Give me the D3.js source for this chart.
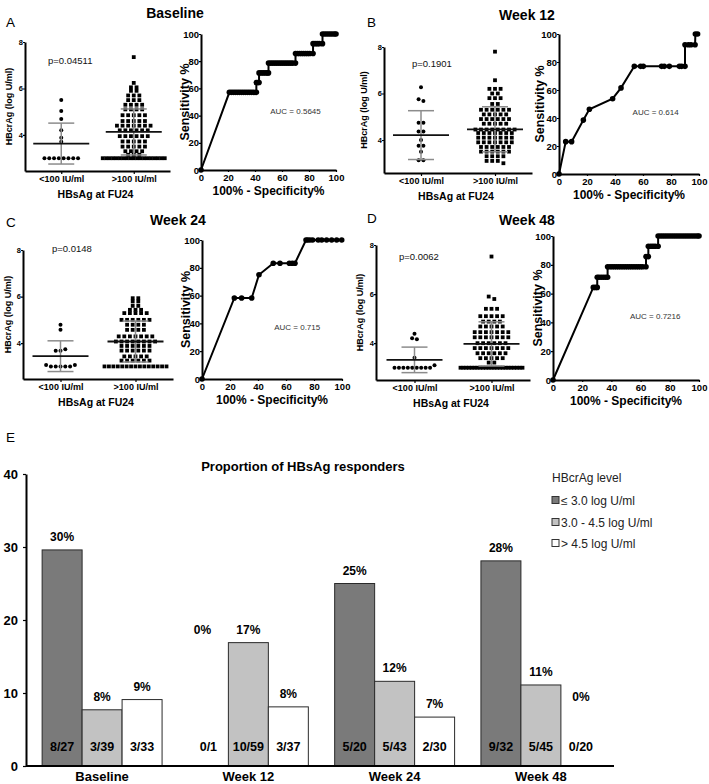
<!DOCTYPE html>
<html><head><meta charset="utf-8">
<script src="https://cdn.jsdelivr.net/npm/d3@7"></script>
<style>
body{margin:0;background:#fff;}
svg{display:block;font-family:"Liberation Sans",Arial,Helvetica,sans-serif;}
</style></head><body>
<script>
// ---------------- DATA ----------------
const scatterCategories = ["<100 IU/ml", ">100 IU/ml"];
const scatterTicks = [4, 6, 8];

// HBcrAg (log U/ml) values
const baselineLow = [5.5, 5.03, 4.69, 4.2, 3.88, 3.71, 3, 3, 3, 3, 3, 3, 3, 3];
const baselineHigh = [7.35, 6.24, 6.05, 6.05, 5.9, 5.9, 5.7, 5.7, 5.7, 5.5, 5.5, 5.5,
  5.3, 5.3, 5.3, 5.3, 5.1, 5.1, 5.1, 5.1, 4.85, 4.85, 4.85, 4.85, 4.85, 4.6, 4.6, 4.6, 4.6, 4.6,
  4.4, 4.4, 4.4, 4.4, 4.4, 4.4, 4.4, 4.2, 4.2, 4.2, 4.2, 4.2, 4.2, 3.95, 3.95, 3.95, 3.95, 3.95, 3.95,
  3.72, 3.72, 3.72, 3.72, 3.72, 3.5, 3.5, 3.5, 3.5, 3.5, 3.3, 3.3, 3.3, 3.3, 3.15, 3.15, 3.15,
  3, 3, 3, 3, 3, 3, 3, 3, 3, 3, 3, 3, 3, 3, 3, 3, 3, 3, 3];
const week12Low = [6.27, 5.75, 5.68, 4.74, 4.74, 4.36, 4.36, 4.0, 3.75, 3.75, 3.49, 3.13, 3.13];
const week12High = [7.8, 6.57, 6.2, 6.2, 6.2, 6.0, 6.0, 5.8, 5.8, 5.8, 5.55, 5.55,
  5.3, 5.3, 5.3, 5.3, 5.3, 5.3, 5.1, 5.1, 5.1, 5.1, 5.1, 4.9, 4.9, 4.9, 4.9, 4.9, 4.9, 4.7, 4.7, 4.7, 4.7, 4.7,
  4.45, 4.45, 4.45, 4.45, 4.45, 4.45, 4.45, 4.45, 4.3, 4.3, 4.3, 4.3, 4.3, 4.3, 4.3,
  4.1, 4.1, 4.1, 4.1, 4.1, 4.1, 4.1, 3.9, 3.9, 3.9, 3.9, 3.9, 3.9, 3.9, 3.7, 3.7, 3.7, 3.7, 3.7, 3.7,
  3.5, 3.5, 3.5, 3.5, 3.5, 3.5, 3.3, 3.3, 3.3, 3.3, 3.1, 3.1, 3.1, 3.0];
const week24Low = [4.79, 4.57, 3.67, 3.67, 3.74, 3.06, 3, 3, 3, 3, 3, 3.06];
const week24High = [5.93, 5.93, 5.79, 5.79, 5.6, 5.6, 5.43, 5.43, 5.43, 5.29, 5.29, 5.29, 5.29, 5.29,
  5.0, 5.0, 5.0, 5.0, 5.0, 5.0, 4.79, 4.79, 4.79, 4.79, 4.57, 4.57, 4.57, 4.57,
  4.29, 4.29, 4.29, 4.29, 4.29, 4.29, 4.29, 4.07, 4.07, 4.07, 4.07, 4.07, 4.07, 4.07, 4.07,
  3.88, 3.88, 3.88, 3.88, 3.88, 3.88, 3.68, 3.68, 3.68, 3.68, 3.68, 3.68, 3.43, 3.43, 3.43, 3.43, 3.43,
  3.25, 3.25, 3.25, 3.25, 3.25, 3.25, 3, 3, 3, 3, 3, 3, 3, 3, 3, 3, 3, 3, 3, 3, 3];
const week48Low = [4.38, 4.2, 4.16, 3.41, 3, 3, 3, 3, 3, 3, 3, 3, 3, 3.1];
const week48High = [7.53, 5.9, 5.8, 5.4, 5.4, 5.4, 5.1, 5.1, 5.1, 5.1, 5.1, 4.88, 4.88, 4.88, 4.88,
  4.68, 4.68, 4.68, 4.68, 4.68, 4.45, 4.45, 4.45, 4.45, 4.45, 4.45, 4.45, 4.24, 4.24, 4.24, 4.24, 4.24, 4.24, 4.24,
  4.0, 4.0, 4.0, 4.0, 4.0, 4.0, 3.8, 3.8, 3.8, 3.8, 3.8, 3.8, 3.8, 3.59, 3.59, 3.59, 3.59, 3.59, 3.59,
  3.39, 3.39, 3.39, 3.39, 3.39, 3.21, 3.21,
  3, 3, 3, 3, 3, 3, 3, 3, 3, 3, 3, 3, 3, 3, 3, 3, 3, 3, 3, 3, 3, 3, 3];

// mean and SD bars [mean, sd] for <100 and >100 groups
const baselineStats = [[3.63, 0.88], [4.13, 0.99]];
const week12Stats = [[4.21, 1.05], [4.46, 0.97]];
const week24Stats = [[3.44, 0.66], [4.07, 0.88]];
const week48Stats = [[3.32, 0.52], [3.97, 0.9]];
const pValues = ["p=0.04511", "p=0.1901", "p=0.0148", "p=0.0062"];
const aucValues = ["AUC = 0.5645", "AUC = 0.614", "AUC = 0.715", "AUC = 0.7216"];
const panelTitles = ["Baseline", "Week 12", "Week 24", "Week 48"];
const rocTicks = [0, 20, 40, 60, 80, 100];

// ROC curves: [100% - specificity %, sensitivity %]
const rocBaseline = [[0,0],
  [21,57.1],[22.5,57.1],[24,57.1],[25.5,57.1],[27,57.1],[28.5,57.1],[30,57.1],[31.5,57.1],[33,57.1],[34.5,57.1],[36,57.1],[37.5,57.1],[39,57.1],[41,57.1],
  [41,64.3],[42,64.3],[43,64.3],
  [43,71.4],[44.5,71.4],[46,71.4],[47.5,71.4],[49,71.4],[50,71.4],
  [50,78.6],[51.5,78.6],[53,78.6],[54.5,78.6],[56,78.6],[57.5,78.6],[59,78.6],[60.5,78.6],[62,78.6],[63.5,78.6],[65,78.6],[66.5,78.6],[68,78.6],[70,78.6],
  [70,85.7],[71.5,85.7],[73,85.7],[74.5,85.7],[76,85.7],[77.5,85.7],[79,85.7],[80.5,85.7],[83,85.7],
  [83,92.9],[84.5,92.9],[86,92.9],[87.5,92.9],[90,92.9],
  [90,100],[91.5,100],[93,100],[94.5,100],[96,100],[97.5,100],[99,100],[100,100]];
const rocWeek12 = [[0,0],[4.8,23.1],[9,23.1],[17.4,38.5],[21.7,46.2],[38.3,53.8],[44.3,61.5],
  [53.8,76.9],[58.3,76.9],[60.2,76.9],[73.3,76.9],[75.2,76.9],[78.8,76.9],[86,76.9],[87.6,76.9],[90,76.9],
  [90,92.3],[92.4,92.3],[94.3,92.3],[97.2,92.3],[97.4,100],[99,100]];
const rocWeek24 = [[0,0],[23.1,58.3],[28.3,58.3],[35.5,58.3],[40.7,75],[50.9,83.3],[55.7,83.3],
  [62.4,83.3],[64.5,83.3],[66.4,83.3],[74.3,100],[75.5,100],[77.1,100],[79,100],[83,100],[85.5,100],
  [89,100],[92.6,100],[96.2,100],[99.8,100]];
const rocWeek48 = [[0,0],[27.6,64.3],[29,64.3],[30.3,64.3],
  [30.3,71.4],[31.5,71.4],[33,71.4],[34.5,71.4],[36,71.4],[37.4,71.4],
  [37.4,78.6],[39,78.6],[40.5,78.6],[42,78.6],[43.5,78.6],[45,78.6],[46.5,78.6],[48,78.6],[49.5,78.6],[51,78.6],
  [52.5,78.6],[54,78.6],[55.5,78.6],[57,78.6],[58.5,78.6],[60,78.6],[61.5,78.6],[63.7,78.6],
  [63.7,85.7],[65.3,85.7],[65.3,92.9],[67,92.9],[68.5,92.9],[70,92.9],[72,92.9],
  [72,100],[73.5,100],[75,100],[76.5,100],[78,100],[79.5,100],[81,100],[82.5,100],[84,100],[85.5,100],
  [87,100],[88.5,100],[90,100],[91.5,100],[93,100],[94.5,100],[96,100],[97.5,100],[99,100],[100,100]];

// Panel E
const timepoints = ["Baseline", "Week 12", "Week 24", "Week 48"];
const hbcrLevels = ["\u2264 3.0 log U/ml", "3.0 - 4.5 log U/ml", "> 4.5 log U/ml"];
const respLow = [29.6, 0, 25, 28.1];
const respMid = [7.7, 16.9, 11.6, 11.1];
const respHigh = [9.1, 8.1, 6.7, 0];
const fracLow = ["8/27", "0/1", "5/20", "9/32"];
const fracMid = ["3/39", "10/59", "5/43", "5/45"];
const fracHigh = ["3/33", "3/37", "2/30", "0/20"];
const respTicks = [0, 10, 20, 30, 40];

// ---------------- DRAWING ----------------
const svg = d3.select("body").append("svg").attr("width", 709).attr("height", 784);

function styleAxis(g, fs, sw) {
  g.select(".domain").attr("stroke", "#000").attr("stroke-width", sw);
  g.selectAll(".tick line").attr("stroke", "#000").attr("stroke-width", 1.2);
  g.selectAll(".tick text").attr("font-size", fs).attr("font-weight", "bold").attr("fill", "#000")
    .attr("font-family", "Liberation Sans, Arial, sans-serif");
}

function swarm(vals, y, cx, spacing, maxW) {
  const rows = [];
  vals.forEach(v => {
    const py = y(v);
    let r = rows.find(r => Math.abs(r.py - py) < 2.6);
    if (!r) { r = { py, items: [] }; rows.push(r); }
    r.items.push(v);
  });
  const out = [];
  rows.forEach((r, ri) => {
    const n = r.items.length;
    const sp = n > 1 ? Math.min(spacing, maxW / (n - 1)) : 0;
    r.items.forEach((v, j) => out.push({ v, x: cx + (j - (n - 1) / 2) * sp, y: y(v) }));
  });
  return out;
}

function drawScatter(cfg, low, high, stats, pText) {
  const g = svg.append("g");
  const x = d3.scalePoint().domain(scatterCategories).range(cfg.xr).padding(0.5);
  const y = d3.scaleLinear().domain([cfg.ymin, 8]).range(cfg.yr);
  // points
  swarm(low, y, x(scatterCategories[0]), 4.8, 40).forEach(p => {
    g.append("circle").attr("cx", p.x).attr("cy", p.y).attr("r", 2.0).attr("fill", "#000");
  });
  swarm(high, y, x(scatterCategories[1]), 5.6, 62).forEach(p => {
    g.append("rect").attr("x", p.x - 1.9).attr("y", p.y - 1.9).attr("width", 3.8).attr("height", 3.8).attr("fill", "#000");
  });
  // mean & SD
  scatterCategories.forEach((c, i) => {
    const cx = x(c), m = stats[i][0], sd = stats[i][1];
    g.append("line").attr("x1", cx).attr("x2", cx).attr("y1", y(m - sd)).attr("y2", y(m + sd))
      .attr("stroke", "#8c8c8c").attr("stroke-width", 1.5);
    [m - sd, m + sd].forEach(v => g.append("line").attr("x1", cx - 13).attr("x2", cx + 13)
      .attr("y1", y(v)).attr("y2", y(v)).attr("stroke", "#8c8c8c").attr("stroke-width", 1.5));
    g.append("line").attr("x1", cx - 28).attr("x2", cx + 28).attr("y1", y(m)).attr("y2", y(m))
      .attr("stroke", "#111").attr("stroke-width", 1.8);
  });
  // axes
  const ya = g.append("g").attr("transform", `translate(${cfg.xr[0]},0)`)
    .call(d3.axisLeft(y).tickValues(scatterTicks).tickFormat(d3.format("d")).tickSize(2).tickPadding(0).tickSizeOuter(0));
  styleAxis(ya, 7.5, 2);
  const xa = g.append("g").attr("transform", `translate(0,${cfg.yr[0]})`)
    .call(d3.axisBottom(x).tickSize(3).tickPadding(2).tickSizeOuter(0));
  styleAxis(xa, 9, 2);
  g.append("text").attr("x", (cfg.xr[0] + cfg.xr[1]) / 2 - 2).attr("y", cfg.yr[0] + 27)
    .attr("text-anchor", "middle").attr("font-size", 10.5).attr("font-weight", "bold").text("HBsAg at FU24");
  g.append("text").attr("transform", `translate(${cfg.yTitleX},${(cfg.yr[0] + cfg.yr[1]) / 2}) rotate(-90)`)
    .attr("text-anchor", "middle").attr("dy", "0.35em").attr("font-size", 9).attr("font-weight", "bold")
    .text("HBcrAg (log U/ml)");
  g.append("text").attr("x", cfg.pPos[0]).attr("y", cfg.pPos[1]).attr("font-size", 9.5).attr("fill", "#111").text(pText);
}

function drawROC(cfg, data, auc) {
  const g = svg.append("g");
  const x = d3.scaleLinear().domain([0, 100]).range(cfg.xr);
  const y = d3.scaleLinear().domain([0, 100]).range(cfg.yr);
  g.append("path").datum(data).attr("fill", "none").attr("stroke", "#000").attr("stroke-width", 2)
    .attr("d", d3.line().x(d => x(d[0])).y(d => y(d[1])));
  g.selectAll("circle").data(data).join("circle").attr("cx", d => x(d[0])).attr("cy", d => y(d[1]))
    .attr("r", 2.8).attr("fill", "#000");
  const ya = g.append("g").attr("transform", `translate(${cfg.xr[0]},0)`)
    .call(d3.axisLeft(y).tickValues(rocTicks).tickSize(2).tickPadding(0).tickSizeOuter(0));
  styleAxis(ya, 9.5, 2);
  const xa = g.append("g").attr("transform", `translate(0,${cfg.yr[0]})`)
    .call(d3.axisBottom(x).tickValues(rocTicks).tickSize(2).tickPadding(2).tickSizeOuter(0));
  styleAxis(xa, 9.5, 2);
  g.append("text").attr("x", (cfg.xr[0] + cfg.xr[1]) / 2).attr("y", cfg.yr[0] + 25)
    .attr("text-anchor", "middle").attr("font-size", 12).attr("font-weight", "bold").text("100% - Specificity%");
  g.append("text").attr("transform", `translate(${cfg.yTitleX},${(cfg.yr[0] + cfg.yr[1]) / 2}) rotate(-90)`)
    .attr("text-anchor", "middle").attr("dy", "0.35em").attr("font-size", 12.5).attr("font-weight", "bold")
    .text("Sensitivity %");
  g.append("text").attr("x", x(cfg.auc[0])).attr("y", y(cfg.auc[1])).attr("dy", "0.35em")
    .attr("text-anchor", "middle").attr("font-size", 8).attr("fill", "#333").text(auc);
}

function header(letter, lx, ly, title, tx, ty) {
  svg.append("text").attr("x", lx).attr("y", ly).attr("font-size", 13.5).text(letter);
  svg.append("text").attr("x", tx).attr("y", ty).attr("text-anchor", "middle")
    .attr("font-size", 14).attr("font-weight", "bold").text(title);
}

header("A", 6, 27, panelTitles[0], 175, 18);
header("B", 367, 27, panelTitles[1], 527, 20);
header("C", 6, 227, panelTitles[2], 178, 225);
header("D", 367, 223, panelTitles[3], 527, 225);

drawScatter({ xr: [25, 170], yr: [171, 42], ymin: 2.45, yTitleX: 9, pPos: [48, 64] }, baselineLow, baselineHigh, baselineStats, pValues[0]);
drawScatter({ xr: [384, 532], yr: [173, 47], ymin: 2.58, yTitleX: 364, pPos: [412, 67] }, week12Low, week12High, week12Stats, pValues[1]);
drawScatter({ xr: [23, 173], yr: [379, 250], ymin: 2.46, yTitleX: 8, pPos: [52, 252] }, week24Low, week24High, week24Stats, pValues[2]);
drawScatter({ xr: [376, 530], yr: [380, 245], ymin: 2.5, yTitleX: 360, pPos: [399, 260] }, week48Low, week48High, week48Stats, pValues[3]);

drawROC({ xr: [201, 336], yr: [170, 34], yTitleX: 185, auc: [70, 43] }, rocBaseline, aucValues[0]);
drawROC({ xr: [559, 699], yr: [174, 34], yTitleX: 540, auc: [69, 44] }, rocWeek12, aucValues[1]);
drawROC({ xr: [202, 342], yr: [379, 240], yTitleX: 186, auc: [68, 37] }, rocWeek24, aucValues[2]);
drawROC({ xr: [553, 699], yr: [380, 236], yTitleX: 538, auc: [70, 44] }, rocWeek48, aucValues[3]);

// ---------- Panel E ----------
(function () {
  const g = svg.append("g");
  svg.append("text").attr("x", 6).attr("y", 442).attr("font-size", 13.5).text("E");
  const x0 = d3.scaleBand().domain(timepoints).range([27.5, 615.5]).paddingInner(0.18).paddingOuter(0.1);
  const x1 = d3.scaleBand().domain(hbcrLevels).range([0, x0.bandwidth()]);
  const y = d3.scaleLinear().domain([0, 40]).range([766, 474]);
  const fills = ["#7a7a7a", "#c2c2c2", "#ffffff"];
  const series = [respLow, respMid, respHigh];
  const fracs = [fracLow, fracMid, fracHigh];
  const labelY = (li, gi) => y(series[li][gi]) - 9;
  timepoints.forEach((t, gi) => {
    hbcrLevels.forEach((lv, li) => {
      const v = series[li][gi];
      const bx = x0(t) + x1(lv), bw = x1.bandwidth(), cx = bx + bw / 2;
      if (v > 0) {
        g.append("rect").attr("x", bx).attr("y", y(v)).attr("width", bw).attr("height", y(0) - y(v))
          .attr("fill", fills[li]).attr("stroke", "#2a2a2a").attr("stroke-width", 1);
      }
      let ly;
      if (v > 0) ly = labelY(li, gi);
      else {
        const nb = li === 0 ? 1 : li - 1;
        ly = labelY(nb, gi) + (li === 0 ? 0 : 25);
      }
      g.append("text").attr("x", cx - (v > 0 ? 0 : (li === 0 ? 6 : 0))).attr("y", ly).attr("text-anchor", "middle")
        .attr("font-size", 12).attr("font-weight", "bold").text(Math.round(v) + "%");
      g.append("text").attr("x", cx).attr("y", 751).attr("text-anchor", "middle")
        .attr("font-size", 12.5).attr("font-weight", "bold").text(fracs[li][gi]);
    });
  });
  const ya = g.append("g").attr("transform", "translate(26,0)")
    .call(d3.axisLeft(y).tickValues(respTicks).tickSize(3).tickPadding(5).tickSizeOuter(0));
  styleAxis(ya, 13, 2);
  const xa = g.append("g").attr("transform", "translate(0,766)")
    .call(d3.axisBottom(x0).tickSize(0).tickPadding(6).tickSizeOuter(0));
  styleAxis(xa, 13, 2);
  xa.select(".domain").attr("d", "M26,0H614");
  svg.append("text").attr("x", 303).attr("y", 471).attr("text-anchor", "middle")
    .attr("font-size", 13).attr("font-weight", "bold").text("Proportion of HBsAg responders");
  // legend
  const lg = svg.append("g");
  lg.append("text").attr("x", 552).attr("y", 482).attr("font-size", 12).attr("fill", "#222").text("HBcrAg level");
  const ly = [500, 522, 543];
  hbcrLevels.forEach((lv, i) => {
    lg.append("rect").attr("x", 552).attr("y", ly[i] - 3.5).attr("width", 7).attr("height", 7)
      .attr("fill", fills[i]).attr("stroke", "#333").attr("stroke-width", 1);
    lg.append("text").attr("x", 561).attr("y", ly[i] + 4.5).attr("font-size", 12).attr("fill", "#222").text(lv);
  });
})();
</script>
</body></html>
